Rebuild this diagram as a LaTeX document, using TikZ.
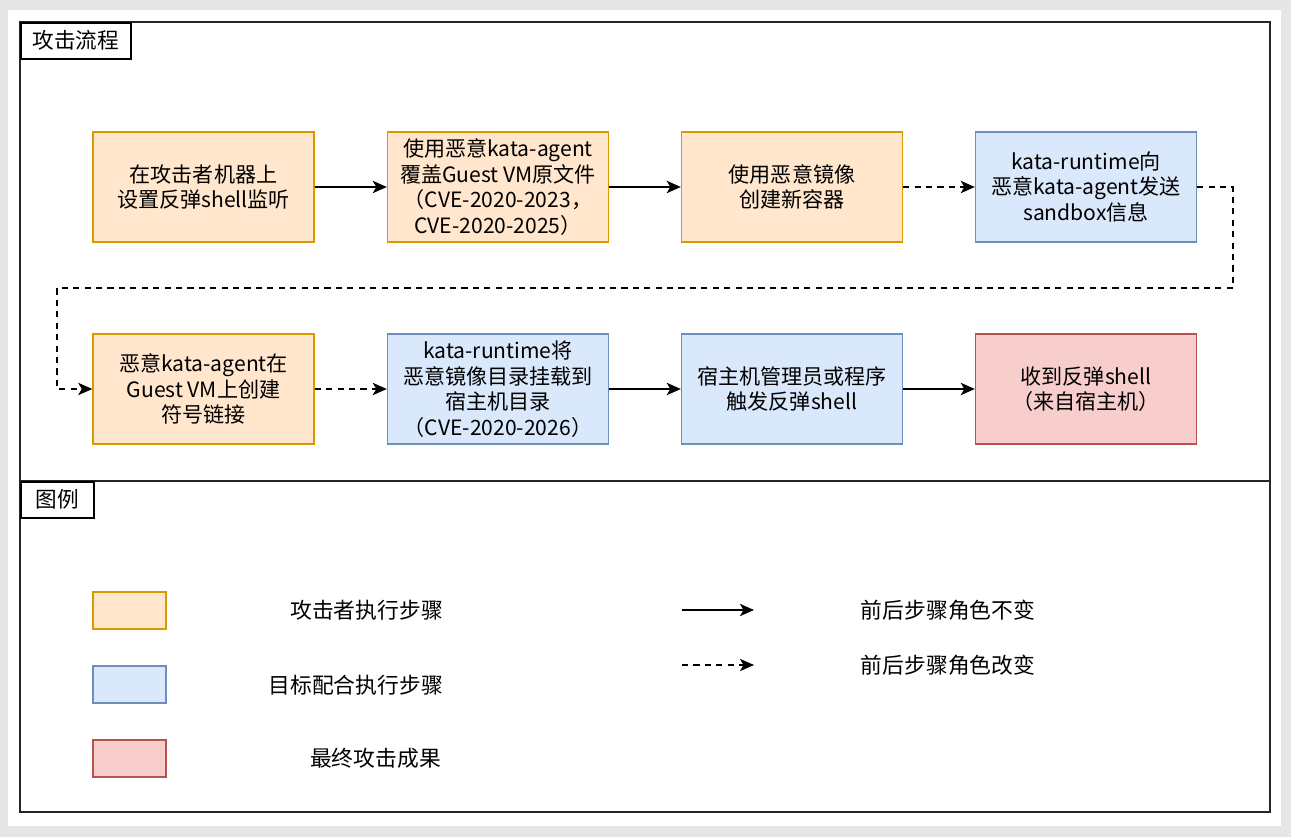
\documentclass[tikz,border=0pt]{standalone}
\usepackage{fontspec}
\setmainfont{Noto Sans CJK SC}
\usepackage{tikz}
\usetikzlibrary{arrows.meta, positioning, calc}
\usepackage{xcolor}
\definecolor{atkfill}{HTML}{FFE6CC}
\definecolor{atkline}{HTML}{D79B00}
\definecolor{tgtfill}{HTML}{DAE8FC}
\definecolor{tgtline}{HTML}{6C8EBF}
\definecolor{resfill}{HTML}{F8CECC}
\definecolor{resline}{HTML}{B85450}
\definecolor{pagegray}{HTML}{E6E6E6}

\tikzset{
    stepbox/.style={draw, line width=0.8pt, minimum width=4.42cm, minimum height=2.2cm,
        align=center, font=\fontsize{12}{14.6}\selectfont, inner sep=2pt},
    atkbox/.style={stepbox, fill=atkfill, draw=atkline},
    tgtbox/.style={stepbox, fill=tgtfill, draw=tgtline},
    resbox/.style={stepbox, fill=resfill, draw=resline},
    keybox/.style={draw, line width=0.8pt, minimum width=1.46cm, minimum height=0.74cm},
    tab/.style={draw, line width=0.9pt, minimum height=0.72cm, font=\fontsize{12.3}{14}\selectfont},
    keytext/.style={font=\fontsize{12.4}{14}\selectfont},
    same/.style={line width=0.9pt, -{Stealth[length=8pt, width=7pt, inset=2pt]}},
    swap/.style={same, dash pattern=on 3.5pt off 3pt}
}

\begin{document}
\begin{tikzpicture}[x=0.02cm, y=-0.02cm]
        % Fond
        \fill[pagegray] (0,0) rectangle (1291,837);
        \fill[white] (8,10) rectangle (1281,826);
        \useasboundingbox (0,0) rectangle (1291,837);

        % Cadre + separation
        \draw[line width=1.1pt, black!85] (20,22) rectangle (1270,812);
        \draw[line width=1.1pt, black!85] (20,481) -- (1270,481);

        % Onglets
        \node[tab, anchor=north west, minimum width=2.2cm] (tflow) at (20,22) {攻击流程};
        \node[tab, anchor=north west, minimum width=1.46cm] (tkey) at (20,481) {图例};

        % --- Ligne 1 ---
        \node[atkbox] (s1) at (203.5,187) {在攻击者机器上\\设置反弹shell监听};
        \node[atkbox] (s2) at (498,187) {使用恶意kata-agent\\覆盖Guest VM原文件\\（CVE-2020-2023，\\CVE-2020-2025）};
        \node[atkbox] (s3) at (792,187) {使用恶意镜像\\创建新容器};
        \node[tgtbox] (s4) at (1086,187) {kata-runtime向\\恶意kata-agent发送\\sandbox信息};

        % --- Ligne 2 ---
        \node[atkbox] (s5) at (203.5,389) {恶意kata-agent在\\Guest VM上创建\\符号链接};
        \node[tgtbox] (s6) at (498,389) {kata-runtime将\\恶意镜像目录挂载到\\宿主机目录\\（CVE-2020-2026）};
        \node[tgtbox] (s7) at (792,389) {宿主机管理员或程序\\触发反弹shell};
        \node[resbox] (s8) at (1086,389) {收到反弹shell\\（来自宿主机）};

        % --- Fleches ---
        \draw[same] (s1) -- (s2);
        \draw[same] (s2) -- (s3);
        \draw[swap] (s3) -- (s4);
        \coordinate (turnr) at (1233,288);
        \coordinate (turnl) at (57,288);
        \draw[swap] (s4.east) -| (turnr) -- (turnl) |- (s5.west);
        \draw[swap] (s5) -- (s6);
        \draw[same] (s6) -- (s7);
        \draw[same] (s7) -- (s8);

        % --- Legende ---
        \node[keybox, fill=atkfill, draw=atkline] (katk) at (129.5,610.5) {};
        \node[keybox, fill=tgtfill, draw=tgtline] (ktgt) at (129.5,684.5) {};
        \node[keybox, fill=resfill, draw=resline] (kres) at (129.5,758.5) {};
        \node[keytext, anchor=east] (latk) at (449,610) {攻击者执行步骤};
        \node[keytext, anchor=east] (ltgt) at (449,685) {目标配合执行步骤};
        \node[keytext, anchor=east] (lres) at (447,758) {最终攻击成果};

        \coordinate (a1) at (682,610);
        \coordinate (a2) at (754,610);
        \coordinate (d1) at (682,665);
        \coordinate (d2) at (754,665);
        \draw[same] (a1) -- (a2);
        \draw[swap] (d1) -- (d2);
        \node[keytext] (lsame) at (948,610) {前后步骤角色不变};
        \node[keytext] (lswap) at (948,665) {前后步骤角色改变};
    \end{tikzpicture}
\end{document}
